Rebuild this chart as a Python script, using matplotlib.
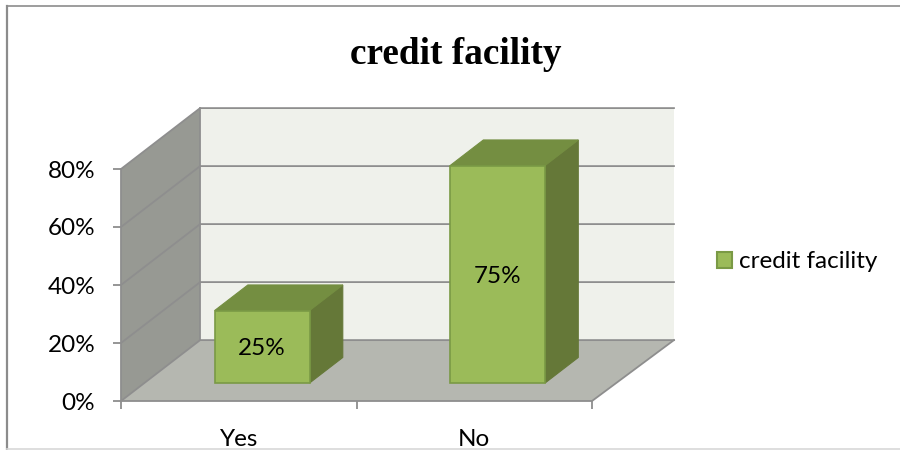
import matplotlib
matplotlib.use('Agg')
import matplotlib.pyplot as plt
from matplotlib.lines import Line2D
from matplotlib.patches import Patch, Polygon

# Chart data
categories = ['Yes', 'No']
values = [25, 75]
value_labels = ['25%', '75%']
y_ticks = [0, 20, 40, 60, 80]
series_name = 'credit facility'
title = 'credit facility'

# Colours
front_color = '#9BBB59'
top_color = '#748E41'
side_color = '#657838'
edge_color = '#7A9A45'
left_wall_color = '#979993'
back_wall_color = '#EFF1EB'
floor_color = '#B5B7B0'
line_color = '#8E8E8E'

# Fake 3D depth, in data units (categories, percent)
depth_x = 0.336
depth_y = 21.0
back_extra = 0.012  # the back wall runs a little wider than the front edge
bar_width = 0.403
bar_start = 0.295  # how far back the bars stand on the floor
bar_depth = 0.42   # bar depth as a share of the floor depth
text_size = 17.5

plt.rcParams['font.family'] = ['Lato', 'DejaVu Sans']

fig = plt.figure(figsize=(9, 4.5), dpi=100)
ax = fig.add_axes([121 / 900, (450 - 401) / 450, 471 / 900, 232 / 450])
ax.set_xlim(0, len(categories))
ax.set_ylim(0, 80)
ax.patch.set_visible(False)
for name in ['top', 'right', 'left', 'bottom']:
    ax.spines[name].set_visible(False)


def add_poly(points, face, edge='none', lw=0, z=1):
    ax.add_patch(Polygon(points, closed=True, facecolor=face, edgecolor=edge,
                         linewidth=lw, zorder=z, clip_on=False))


n = len(categories)
top = y_ticks[-1]
back_right = n + depth_x + back_extra

# Walls and floor
add_poly([(0, 0), (depth_x, depth_y), (depth_x, top + depth_y), (0, top)], left_wall_color, z=1)
add_poly([(depth_x, depth_y), (back_right, depth_y), (back_right, top + depth_y), (depth_x, top + depth_y)],
         back_wall_color, z=1)
add_poly([(0, 0), (n, 0), (back_right, depth_y), (depth_x, depth_y)], floor_color, z=1)

# Gridlines, along the left wall then across the back wall
for v in y_ticks:
    ax.plot([0, depth_x, back_right], [v, v + depth_y, v + depth_y], color=line_color, lw=1.3,
            zorder=2, clip_on=False, solid_joinstyle='miter')
ax.plot([0, 0], [0, top], color=line_color, lw=1.3, zorder=2, clip_on=False)
ax.plot([depth_x, depth_x], [depth_y, top + depth_y], color=line_color, lw=1.3, zorder=2, clip_on=False)
ax.plot([0, n, back_right], [0, 0, depth_y], color=line_color, lw=1.3, zorder=2, clip_on=False)

# Bars
for i, v in enumerate(values):
    x0 = i + 0.5 - bar_width / 2 + bar_start * depth_x
    x1 = x0 + bar_width
    y0 = bar_start * depth_y
    y1 = y0 + v
    dx = bar_depth * depth_x
    dy = bar_depth * depth_y
    add_poly([(x1, y0), (x1 + dx, y0 + dy), (x1 + dx, y1 + dy), (x1, y1)], side_color, side_color, 0.8, 3)
    add_poly([(x0, y1), (x1, y1), (x1 + dx, y1 + dy), (x0 + dx, y1 + dy)], top_color, top_color, 0.8, 3)
    add_poly([(x0, y0), (x1, y0), (x1, y1), (x0, y1)], front_color, edge_color, 1.2, 4)
    ax.annotate(value_labels[i], ((x0 + x1) / 2, y0 + v / 2), xytext=(0, -1.5), textcoords='offset points',
                ha='center', va='center', fontsize=text_size, color='black', zorder=5)

# Axes ticks and labels
ax.set_yticks(y_ticks)
ax.set_yticklabels(['%d%%' % v for v in y_ticks])
ax.set_xticks(range(n + 1))
ax.set_xticklabels([])
ax.set_xticks([i + 0.5 for i in range(n)], minor=True)
ax.set_xticklabels(categories, minor=True)
ax.tick_params(axis='y', length=6, width=1.3, color=line_color, labelsize=text_size, pad=12.5)
ax.tick_params(axis='x', which='major', length=6, width=1.3, color=line_color)
ax.tick_params(axis='x', which='minor', length=0, labelsize=text_size, pad=20)

ax.legend(handles=[Patch(facecolor=front_color, edgecolor=edge_color, linewidth=1.5, label=series_name)],
          loc='center left', bbox_to_anchor=(717 / 900, (450 - 262) / 450), bbox_transform=fig.transFigure,
          frameon=False, fontsize=text_size, handlelength=0.62, handleheight=0.62, handletextpad=0.3,
          borderaxespad=0, borderpad=0)

fig.text(456 / 900, (450 - 55) / 450, title, ha='center', va='center', fontsize=26.8, fontweight='bold',
         family='Liberation Serif', color='black')

# Chart frame
frame = [([7, 7], [5.5, 449], '#8C8C8C', 1.6), ([7, 900], [5.5, 5.5], '#8C8C8C', 1.2),
         ([7, 900], [449, 449], '#D8D8D8', 1.2)]
for xs, ys, color, width in frame:
    fig.add_artist(Line2D([x / 900 for x in xs], [(450 - y) / 450 for y in ys], color=color, lw=width))

fig.savefig('out.png', dpi=100)
